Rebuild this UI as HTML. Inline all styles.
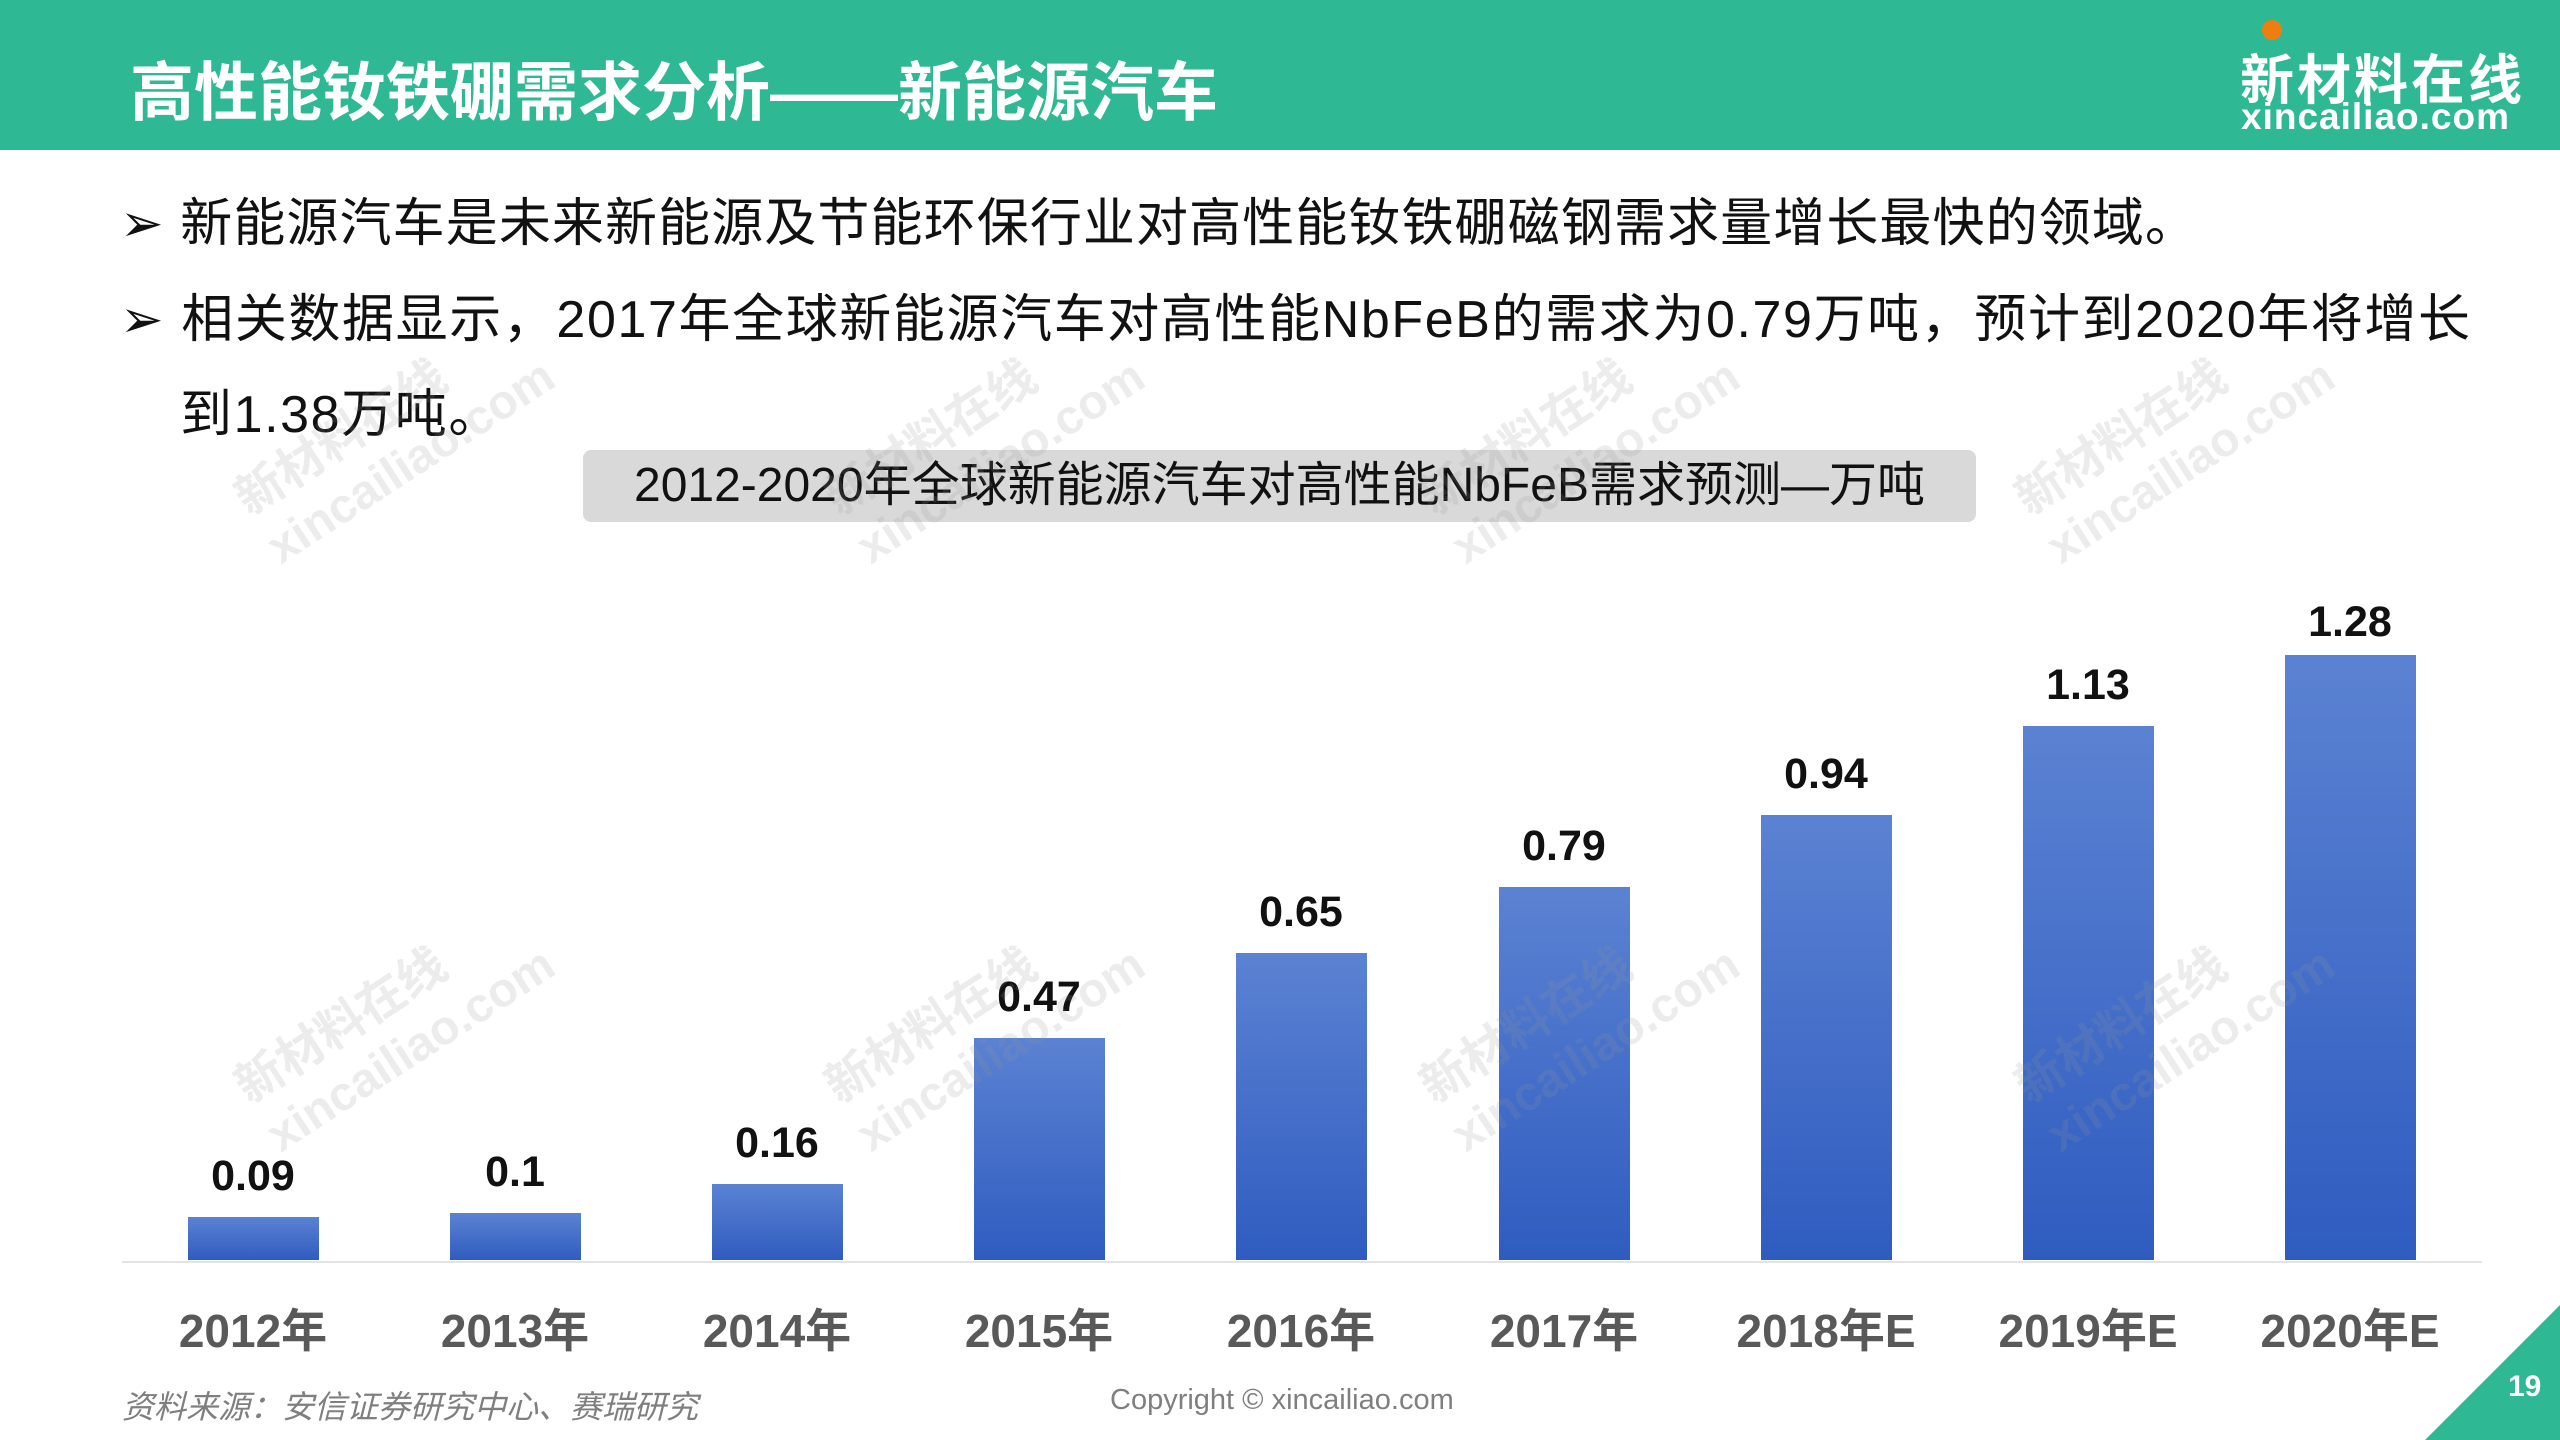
<!DOCTYPE html>
<html><head><meta charset="utf-8"><style>
*{margin:0;padding:0}
body{width:2560px;height:1440px;position:relative;background:#fff;overflow:hidden;font-family:"Liberation Sans","Noto Sans CJK SC",sans-serif}
.a{position:absolute;white-space:nowrap}
.bar{position:absolute;width:131px;background:linear-gradient(#5b82d2,#2f5cc0)}
.v{position:absolute;width:200px;text-align:center;font-weight:bold;font-size:43px;color:#111}
.x{position:absolute;width:262px;text-align:center;font-weight:bold;font-size:46px;color:#595959;top:1295px}
.wm{position:absolute;color:rgba(150,150,150,0.18);font-size:48px;transform:rotate(-33deg);line-height:58px;font-weight:bold}
</style></head><body>
<div class="a" style="left:0;top:0;width:2560px;height:150px;background:#2eb994"></div>
<div class="a" style="left:130px;top:42px;font-size:64px;font-weight:bold;color:#fff">高性能钕铁硼需求分析——新能源汽车</div>
<div class="a" style="left:2262px;top:20px;width:20px;height:20px;border-radius:50%;background:#f07d10"></div>
<div class="a" style="left:2240px;top:36px;font-size:54px;font-weight:bold;color:#fff;letter-spacing:3px">新材料在线</div>
<div class="a" style="left:2241px;top:96px;font-size:37px;font-weight:bold;color:#fff;letter-spacing:1px">xincailiao.com</div>

<div class="a" style="left:120px;top:194px;font-size:52px;color:#111;line-height:60px;letter-spacing:1.1px">➢&nbsp;新能源汽车是未来新能源及节能环保行业对高性能钕铁硼磁钢需求量增长最快的领域。</div>
<div class="a" style="left:120px;top:290px;font-size:52px;color:#111;line-height:60px;letter-spacing:1.6px">➢&nbsp;相关数据显示，2017年全球新能源汽车对高性能NbFeB的需求为0.79万吨，预计到2020年将增长</div>
<div class="a" style="left:180px;top:385px;font-size:52px;color:#111;line-height:60px;letter-spacing:1.6px">到1.38万吨。</div>

<div class="a" style="left:583px;top:450px;width:1393px;height:72px;background:#d9d9d9;border-radius:8px;text-align:center;font-size:48px;line-height:72px;color:#111">2012-2020年全球新能源汽车对高性能NbFeB需求预测—万吨</div>

<div class="a" style="left:122px;top:1261px;width:2360px;height:2px;background:#e3e3e3"></div>

<div class="bar" style="left:188px;top:1217px;height:43px"></div>
<div class="bar" style="left:450px;top:1213px;height:47px"></div>
<div class="bar" style="left:712px;top:1184px;height:76px"></div>
<div class="bar" style="left:974px;top:1038px;height:222px"></div>
<div class="bar" style="left:1236px;top:953px;height:307px"></div>
<div class="bar" style="left:1499px;top:887px;height:373px"></div>
<div class="bar" style="left:1761px;top:815px;height:445px"></div>
<div class="bar" style="left:2023px;top:726px;height:534px"></div>
<div class="bar" style="left:2285px;top:655px;height:605px"></div>

<div class="v" style="left:153px;top:1152px">0.09</div>
<div class="v" style="left:415px;top:1148px">0.1</div>
<div class="v" style="left:677px;top:1119px">0.16</div>
<div class="v" style="left:939px;top:973px">0.47</div>
<div class="v" style="left:1201px;top:888px">0.65</div>
<div class="v" style="left:1464px;top:822px">0.79</div>
<div class="v" style="left:1726px;top:750px">0.94</div>
<div class="v" style="left:1988px;top:661px">1.13</div>
<div class="v" style="left:2250px;top:598px">1.28</div>

<div class="x" style="left:122px">2012年</div>
<div class="x" style="left:384px">2013年</div>
<div class="x" style="left:646px">2014年</div>
<div class="x" style="left:908px">2015年</div>
<div class="x" style="left:1170px">2016年</div>
<div class="x" style="left:1433px">2017年</div>
<div class="x" style="left:1695px">2018年E</div>
<div class="x" style="left:1957px">2019年E</div>
<div class="x" style="left:2219px">2020年E</div>

<div class="wm" style="left:230px;top:380px">新材料在线<br>xincailiao.com</div>
<div class="wm" style="left:820px;top:380px">新材料在线<br>xincailiao.com</div>
<div class="wm" style="left:1415px;top:380px">新材料在线<br>xincailiao.com</div>
<div class="wm" style="left:2010px;top:380px">新材料在线<br>xincailiao.com</div>
<div class="wm" style="left:230px;top:968px">新材料在线<br>xincailiao.com</div>
<div class="wm" style="left:820px;top:968px">新材料在线<br>xincailiao.com</div>
<div class="wm" style="left:1415px;top:968px">新材料在线<br>xincailiao.com</div>
<div class="wm" style="left:2010px;top:968px">新材料在线<br>xincailiao.com</div>

<div class="a" style="left:122px;top:1382px;font-size:32px;font-style:italic;color:#7f7f7f">资料来源：安信证券研究中心、赛瑞研究</div>
<div class="a" style="left:1110px;top:1384px;font-size:29px;color:#7f7f7f">Copyright © xincailiao.com</div>
<svg class="a" style="left:2420px;top:1300px" width="140" height="140"><polygon points="5,140 140,5 140,140" fill="#2eb994"/></svg>
<div class="a" style="left:2508px;top:1370px;font-size:30px;font-weight:bold;color:#fff">19</div>
</body></html>
